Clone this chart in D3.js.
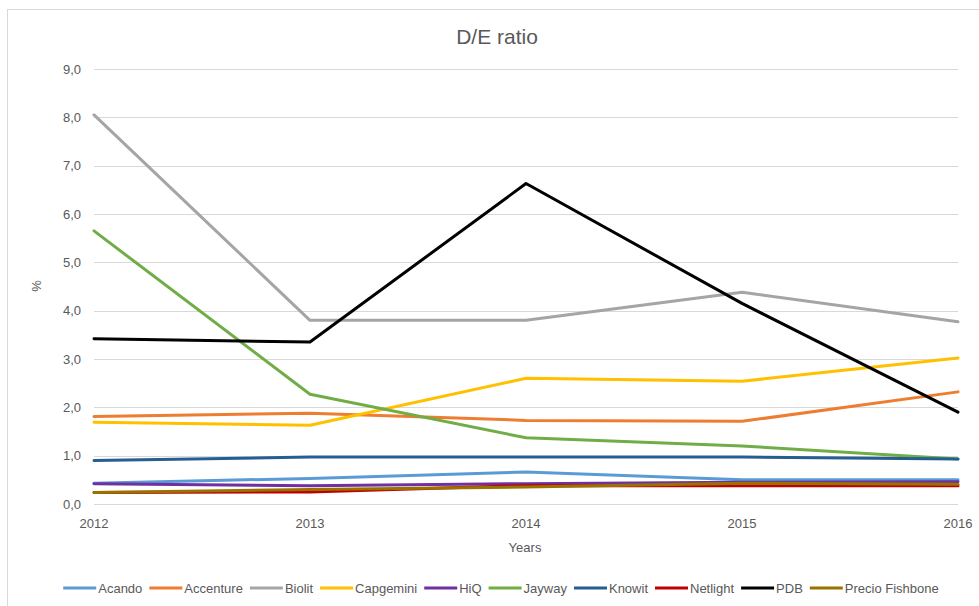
<!DOCTYPE html>
<html>
<head>
<meta charset="utf-8">
<script src="https://cdn.jsdelivr.net/npm/d3@7"></script>
<style>
  body { margin: 0; background: #fff; }
  text { font-family: "Liberation Sans", Arial, sans-serif; fill: #595959; }
</style>
</head>
<body>
<div id="chart"></div>
<script>
// Data
const years = ["2012", "2013", "2014", "2015", "2016"];
const companies = ["Acando", "Accenture", "Biolit", "Capgemini", "HiQ", "Jayway", "Knowit", "Netlight", "PDB", "Precio Fishbone"];
const colors = ["#5B9BD5", "#ED7D31", "#A5A5A5", "#FFC000", "#7030A0", "#70AD47", "#255E91", "#C00000", "#000000", "#997300"];

const acando = [0.43, 0.53, 0.66, 0.50, 0.50];
const accenture = [1.81, 1.88, 1.73, 1.71, 2.32];
const biolit = [8.05, 3.80, 3.80, 4.38, 3.77];
const capgemini = [1.69, 1.63, 2.60, 2.54, 3.02];
const hiq = [0.42, 0.38, 0.42, 0.45, 0.46];
const jayway = [5.65, 2.27, 1.37, 1.20, 0.93];
const knowit = [0.90, 0.97, 0.97, 0.97, 0.93];
const netlight = [0.24, 0.25, 0.38, 0.38, 0.38];
const pdb = [3.42, 3.35, 6.63, 4.15, 1.90];
const precio = [0.24, 0.30, 0.35, 0.43, 0.41];

const yTicks = [0, 1, 2, 3, 4, 5, 6, 7, 8, 9];

const seriesValues = [acando, accenture, biolit, capgemini, hiq, jayway, knowit, netlight, pdb, precio];
const series = companies.map((name, i) => ({ name: name, color: colors[i], values: seriesValues[i] }));

const W = 979, H = 606;
const svg = d3.select("#chart").append("svg")
  .attr("width", W)
  .attr("height", H);

// chart frame
svg.append("rect")
  .attr("x", 7.5).attr("y", 9.5)
  .attr("width", 1000).attr("height", 1000)
  .attr("fill", "none")
  .attr("stroke", "#d9d9d9");

// scales
const x = d3.scalePoint()
  .domain(years)
  .range([94, 958]);

const y = d3.scaleLinear()
  .domain([0, 9])
  .range([504, 69]);

// gridlines
svg.append("g")
  .selectAll("line")
  .data(yTicks)
  .enter()
  .append("line")
  .attr("x1", 94).attr("x2", 958)
  .attr("y1", d => Math.round(y(d)) + 0.5)
  .attr("y2", d => Math.round(y(d)) + 0.5)
  .attr("stroke", "#d9d9d9")
  .attr("stroke-width", 1);

// y axis labels
const fmt = d => d3.format(".1f")(d).replace(".", ",");
svg.append("g")
  .selectAll("text")
  .data(yTicks)
  .enter()
  .append("text")
  .attr("x", 81)
  .attr("y", d => y(d) + 4.5)
  .attr("text-anchor", "end")
  .style("font-size", "13px")
  .text(fmt);

// x axis labels
svg.append("g")
  .selectAll("text")
  .data(years)
  .enter()
  .append("text")
  .attr("x", d => x(d))
  .attr("y", 528)
  .attr("text-anchor", "middle")
  .style("font-size", "13px")
  .text(d => d);

// lines
const line = d3.line()
  .x((d, i) => x(years[i]))
  .y(d => y(d));

svg.append("g")
  .selectAll("path")
  .data(series)
  .enter()
  .append("path")
  .attr("d", d => line(d.values))
  .attr("fill", "none")
  .attr("stroke", d => d.color)
  .attr("stroke-width", 3)
  .attr("stroke-linejoin", "round")
  .attr("stroke-linecap", "round");

// title
svg.append("text")
  .attr("x", 497)
  .attr("y", 44)
  .attr("text-anchor", "middle")
  .style("font-size", "21px")
  .text("D/E ratio");

// axis titles
svg.append("text")
  .attr("x", 525)
  .attr("y", 552)
  .attr("text-anchor", "middle")
  .style("font-size", "13px")
  .text("Years");

svg.append("text")
  .attr("transform", "translate(41,286) rotate(-90)")
  .attr("text-anchor", "middle")
  .style("font-size", "13px")
  .text("%");

// legend
const legend = svg.append("g");
const lineLen = 33, gapText = 2, gapItem = 7;
const items = legend.selectAll("g")
  .data(series)
  .enter()
  .append("g");

items.append("line")
  .attr("x1", 0).attr("x2", lineLen)
  .attr("y1", 0).attr("y2", 0)
  .attr("stroke", d => d.color)
  .attr("stroke-width", 3);

items.append("text")
  .attr("x", lineLen + gapText)
  .attr("y", 4.5)
  .style("font-size", "13px")
  .text(d => d.name);

let offset = 0;
const widths = [];
items.each(function() {
  const w = this.querySelector("text").getComputedTextLength() + lineLen + gapText;
  widths.push(w);
});
const total = d3.sum(widths) + gapItem * (widths.length - 1);
let start = 501 - total / 2;
items.attr("transform", (d, i) => {
  const tx = start + offset;
  offset += widths[i] + gapItem;
  return "translate(" + tx + ",588)";
});
</script>
</body>
</html>
